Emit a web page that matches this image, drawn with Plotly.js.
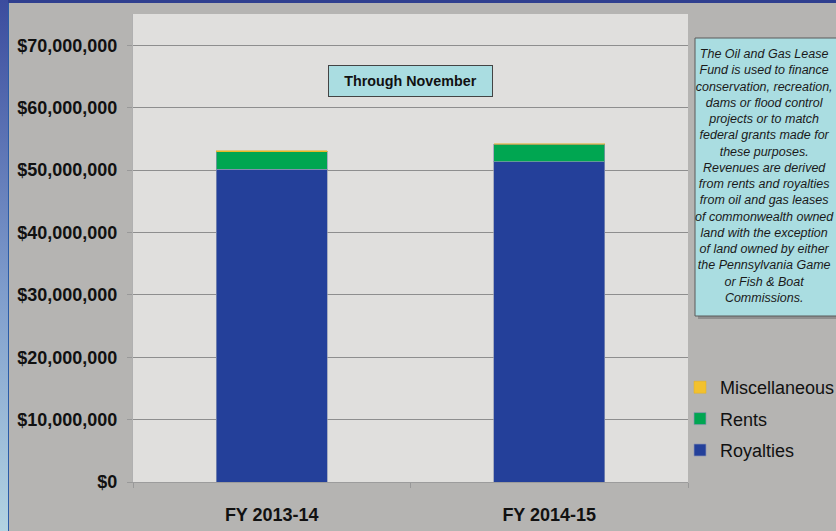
<!DOCTYPE html>
<html>
<head>
<meta charset="utf-8">
<script src="https://cdn.plot.ly/plotly-3.0.1.min.js"></script>
<style>
  html, body { margin: 0; padding: 0; background: #b5b4b2; }
  #wrap { position: relative; width: 836px; height: 531px; overflow: hidden; }
  #chart { width: 836px; height: 531px; }
  /* blue frame of the slide */
  #edgeTop { position: absolute; left: 0; top: 0; width: 836px; height: 3px; background: #2f3f8f; }
  #edgeLeft { position: absolute; left: 0; top: 0; width: 8px; height: 531px;
    background: linear-gradient(#3b4c9e, #7f9dcc 55%, #b2d3e2); }
  #edgeLine { position: absolute; left: 8px; top: 3px; width: 1px; height: 528px; background: #2b5ca6; }
</style>
</head>
<body>
<div id="wrap">
  <div id="chart"></div>
  <div id="edgeTop"></div>
  <div id="edgeLeft"></div>
  <div id="edgeLine"></div>
</div>
<script>
// fiscal years shown
var years = ['FY 2013-14', 'FY 2014-15'];

// revenue by source, dollars (through November)
var royalties = [50100000, 51300000];
var rents = [2800000, 2850000];
var misc = [200000, 50000];

var yTicks = [0, 10000000, 20000000, 30000000, 40000000, 50000000, 60000000, 70000000];
var yTickText = ['$0', '$10,000,000', '$20,000,000', '$30,000,000', '$40,000,000',
  '$50,000,000', '$60,000,000', '$70,000,000'];

var noteText = 'The Oil and Gas Lease<br>Fund is used to finance<br>conservation, recreation,<br>' +
  'dams or flood control<br>projects or to match<br>federal grants made for<br>these purposes.<br>' +
  'Revenues are derived<br>from rents and royalties<br>from oil and gas leases<br>' +
  'of commonwealth owned<br>land with the exception<br>of land owned by either<br>' +
  'the Pennsylvania Game<br>or Fish &amp; Boat<br>Commissions.';

// plot area in pixels
var L = 133, R = 688, T = 14, B = 482;
function px(x) { return (x - L) / (R - L); }
function py(y) { return (B - y) / (B - T); }

var font = 'Arial, "Liberation Sans", sans-serif';
var edge = 'rgba(140,150,180,0.7)';

var traces = [
  { name: 'Royalties', x: years, y: royalties, type: 'bar', legendrank: 3, legendgroup: 'roy',
    marker: { color: '#24409a', line: { color: edge, width: 1 } } },
  { name: 'Rents', x: years, y: rents, type: 'bar', legendrank: 2, legendgroup: 'rent',
    marker: { color: '#00a651', line: { color: edge, width: 1 } } },
  { name: 'Miscellaneous', x: years, y: misc, type: 'bar', legendrank: 1, legendgroup: 'misc',
    marker: { color: '#f2c12e', line: { color: '#e0b020', width: 0.5 } } }
];

var layout = {
  width: 836, height: 531,
  margin: { l: L, r: 836 - R, t: T, b: 531 - B, autoexpand: false },
  paper_bgcolor: '#b5b4b2',
  plot_bgcolor: '#e0dfdd',
  barmode: 'stack',
  bargap: 0.6,
  showlegend: true,
  legend: {
    x: px(680), y: py(369), xanchor: 'left', yanchor: 'top',
    traceorder: 'grouped', tracegroupgap: 5,
    font: { family: font, size: 18, color: '#111' },
    bgcolor: 'rgba(0,0,0,0)'
  },
  font: { family: font, color: '#111' },
  xaxis: {
    type: 'category',
    tickfont: { family: font, size: 18, color: '#111', weight: 'bold' },
    ticks: 'outside', ticklen: 5, tickcolor: '#999', tickson: 'boundaries',
    ticklabelstandoff: 16,
    showline: true, linecolor: '#9c9c9c', linewidth: 1,
    showgrid: false, fixedrange: true
  },
  yaxis: {
    range: [0, 75000000],
    tickvals: yTicks, ticktext: yTickText,
    tickfont: { family: font, size: 18, color: '#111', weight: 'bold' },
    ticks: 'outside', ticklen: 5, tickcolor: '#999',
    ticklabelstandoff: 6,
    showgrid: true, gridcolor: '#8e8e8e', gridwidth: 1,
    showline: true, linecolor: '#b0b0b0',
    zeroline: false, fixedrange: true
  },
  shapes: [
    // note box on the right
    { type: 'rect', xref: 'paper', yref: 'paper', layer: 'above',
      x0: px(698), x1: px(845), y0: py(319), y1: py(41),
      fillcolor: '#8f8f8f', line: { width: 0 } },
    { type: 'rect', xref: 'paper', yref: 'paper', layer: 'above',
      x0: px(695), x1: px(842), y0: py(316), y1: py(38),
      fillcolor: '#aadde1', line: { color: '#5a5a5a', width: 1 } }
  ],
  annotations: [
    { xref: 'paper', yref: 'paper', x: px(410), y: py(81),
      xanchor: 'center', yanchor: 'middle',
      text: '<b>Through November</b>', showarrow: false,
      font: { family: font, size: 14.3, color: '#111' },
      bgcolor: '#aadde1', bordercolor: '#444', borderwidth: 1, borderpad: 3,
      width: 157, height: 24 },
    { xref: 'paper', yref: 'paper', x: px(764), y: py(176),
      xanchor: 'center', yanchor: 'middle',
      text: '<i>' + noteText + '</i>', showarrow: false, align: 'center',
      font: { family: font, size: 12.5, color: '#1a1a1a' } }
  ]
};

Plotly.newPlot('chart', traces, layout, { displayModeBar: false, staticPlot: true });
</script>
</body>
</html>
